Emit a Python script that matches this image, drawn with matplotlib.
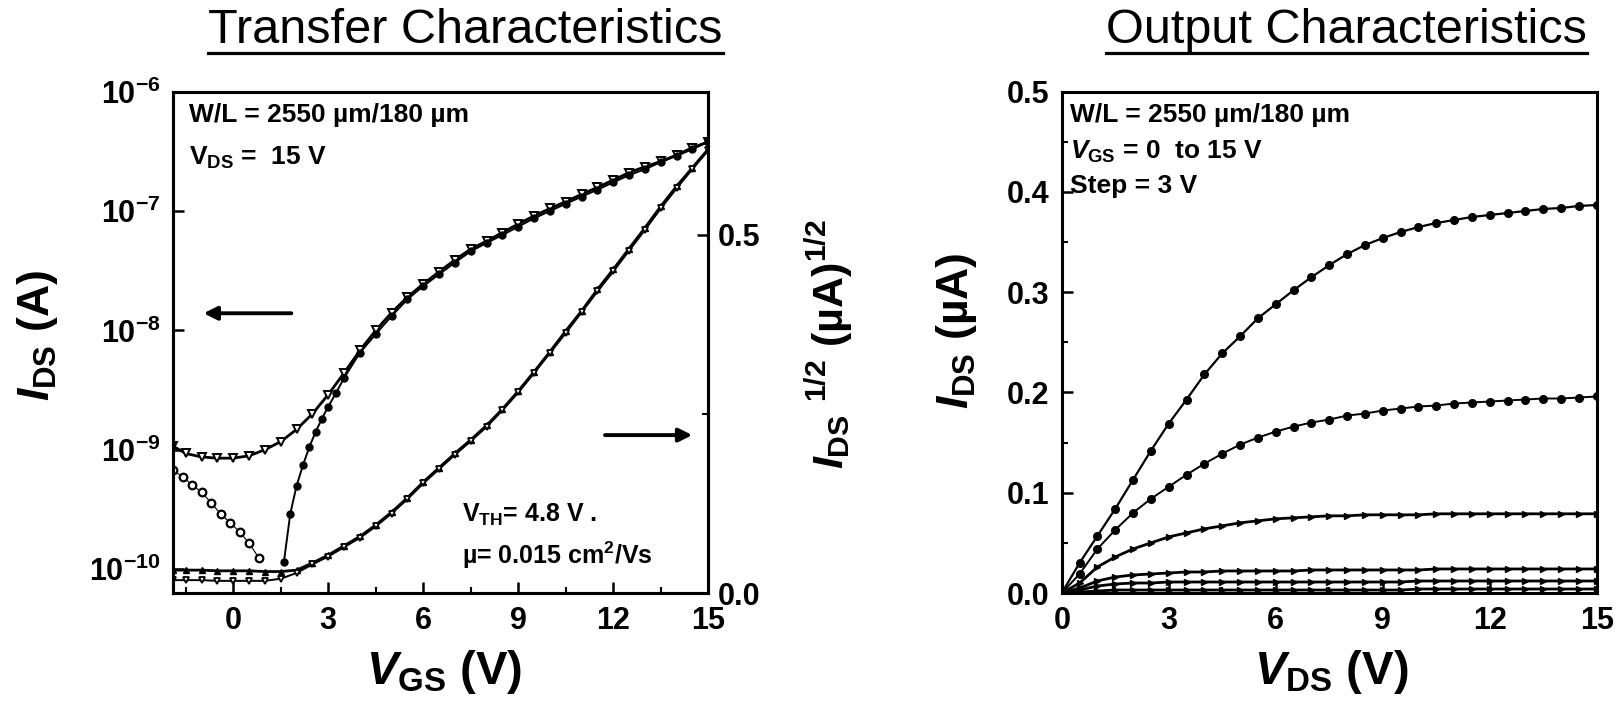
import numpy as np
import matplotlib
matplotlib.use('Agg')
import matplotlib.pyplot as plt
from matplotlib.ticker import FixedLocator, MultipleLocator, FuncFormatter, NullLocator, FormatStrFormatter
from matplotlib.lines import Line2D

# ---------------- data ----------------
# Transfer characteristics, V_DS = 15 V  (left axis, log I_DS in A)
vgs_fwd = [-1.9, -1.5, -1.0, -0.5, 0.0, 0.5, 1.0, 1.5, 2.0, 2.5, 3.0, 3.5, 4.0, 4.5, 5.0,
           5.5, 6.0, 6.5, 7.0, 7.5, 8.0, 8.5, 9.0, 9.5, 10.0, 10.5, 11.0, 11.5, 12.0,
           12.5, 13.0, 13.5, 14.0, 14.5, 15.0]
ids_fwd = [1.07e-9, 9.3e-10, 8.7e-10, 8.5e-10, 8.5e-10, 8.9e-10, 1.0e-9, 1.17e-9, 1.48e-9,
           2.0e-9, 2.9e-9, 4.4e-9, 6.8e-9, 1.0e-8, 1.41e-8, 1.9e-8, 2.45e-8, 3.1e-8, 3.9e-8,
           4.8e-8, 5.6e-8, 6.6e-8, 7.8e-8, 9.1e-8, 1.05e-7, 1.2e-7, 1.38e-7, 1.58e-7, 1.82e-7,
           2.1e-7, 2.35e-7, 2.6e-7, 2.95e-7, 3.4e-7, 3.8e-7]

vgs_rev_low = [-1.9, -1.6, -1.3, -1.0, -0.7, -0.4, -0.1, 0.2, 0.5, 0.8]
ids_rev_low = [6.8e-10, 5.9e-10, 5.1e-10, 4.4e-10, 3.6e-10, 2.9e-10, 2.45e-10, 2.05e-10,
               1.65e-10, 1.25e-10]

vgs_rev_on = [1.6, 1.8, 2.0, 2.2, 2.4, 2.6, 2.8, 3.0, 3.25, 3.5, 4.0, 4.5, 5.0, 5.5, 6.0,
              6.5, 7.0, 7.5, 8.0, 8.5, 9.0, 9.5, 10.0, 10.5, 11.0, 11.5, 12.0, 12.5, 13.0,
              13.5, 14.0, 14.5, 15.0]
ids_rev_on = [1.15e-10, 2.9e-10, 5.0e-10, 7.4e-10, 1.05e-9, 1.41e-9, 1.82e-9, 2.3e-9, 3.0e-9,
              4.0e-9, 6.5e-9, 9.3e-9, 1.32e-8, 1.82e-8, 2.35e-8, 2.95e-8, 3.7e-8, 4.6e-8,
              5.4e-8, 6.3e-8, 7.4e-8, 8.7e-8, 1.0e-7, 1.15e-7, 1.32e-7, 1.51e-7, 1.74e-7,
              2.0e-7, 2.24e-7, 2.57e-7, 2.9e-7, 3.3e-7, 3.8e-7]

# right axis: I_DS^(1/2) in (uA)^(1/2)
vgs_sq = [-1.9, -1.5, -1.0, -0.5, 0.0, 0.5, 1.0, 1.5, 2.0, 2.5, 3.0, 3.5, 4.0, 4.5, 5.0,
          5.5, 6.0, 6.5, 7.0, 7.5, 8.0, 8.5, 9.0, 9.5, 10.0, 10.5, 11.0, 11.5, 12.0,
          12.5, 13.0, 13.5, 14.0, 14.5, 15.0]
sqrt_fwd = [0.032, 0.032, 0.032, 0.031, 0.031, 0.031, 0.030, 0.030, 0.032, 0.042, 0.053,
            0.066, 0.079, 0.095, 0.113, 0.133, 0.155, 0.175, 0.195, 0.214, 0.234, 0.257,
            0.282, 0.309, 0.337, 0.366, 0.394, 0.424, 0.452, 0.481, 0.510, 0.540, 0.568,
            0.594, 0.620]
sqrt_rev = [0.018, 0.018, 0.018, 0.017, 0.017, 0.017, 0.017, 0.020, 0.028, 0.040, 0.051,
            0.064, 0.077, 0.093, 0.111, 0.131, 0.153, 0.173, 0.193, 0.212, 0.232, 0.255,
            0.280, 0.307, 0.335, 0.363, 0.392, 0.421, 0.449, 0.478, 0.507, 0.537, 0.565,
            0.592, 0.618]

# Output characteristics (I_DS in uA), V_GS = 0 to 15 V, step 3 V
vds = [0.0, 0.5, 1.0, 1.5, 2.0, 2.5, 3.0, 3.5, 4.0, 4.5, 5.0, 5.5, 6.0, 6.5, 7.0, 7.5, 8.0,
       8.5, 9.0, 9.5, 10.0, 10.5, 11.0, 11.5, 12.0, 12.5, 13.0, 13.5, 14.0, 14.5, 15.0]
ids_vgs15 = [0.0, 0.030, 0.057, 0.084, 0.113, 0.142, 0.169, 0.193, 0.218, 0.239, 0.256,
             0.274, 0.288, 0.302, 0.315, 0.327, 0.338, 0.347, 0.354, 0.360, 0.365, 0.369,
             0.372, 0.375, 0.377, 0.379, 0.381, 0.383, 0.384, 0.386, 0.387]
ids_vgs12 = [0.0, 0.019, 0.044, 0.063, 0.080, 0.094, 0.106, 0.118, 0.129, 0.139, 0.148,
             0.155, 0.161, 0.166, 0.170, 0.173, 0.177, 0.179, 0.182, 0.184, 0.186, 0.187,
             0.189, 0.190, 0.191, 0.192, 0.193, 0.194, 0.194, 0.195, 0.196]
ids_vgs9 = [0.0, 0.010, 0.026, 0.036, 0.044, 0.050, 0.056, 0.060, 0.064, 0.067, 0.070,
            0.072, 0.074, 0.075, 0.076, 0.077, 0.077, 0.078, 0.078, 0.078, 0.078, 0.079,
            0.079, 0.079, 0.079, 0.079, 0.079, 0.079, 0.079, 0.079, 0.079]
ids_vgs6 = [0.0, 0.005, 0.012, 0.016, 0.018, 0.019, 0.020, 0.021, 0.021, 0.022, 0.022,
            0.022, 0.022, 0.022, 0.023, 0.023, 0.023, 0.023, 0.023, 0.023, 0.023, 0.024,
            0.024, 0.024, 0.024, 0.024, 0.024, 0.024, 0.024, 0.024, 0.024]
ids_vgs3 = [0.0, 0.003, 0.007, 0.009, 0.010, 0.010, 0.011, 0.011, 0.011, 0.011, 0.011,
            0.011, 0.011, 0.011, 0.011, 0.011, 0.011, 0.011, 0.011, 0.011, 0.012, 0.012,
            0.012, 0.012, 0.012, 0.012, 0.012, 0.012, 0.012, 0.012, 0.012]
ids_vgs0 = [0.0, 0.001, 0.002, 0.003, 0.003, 0.003, 0.003, 0.003, 0.003, 0.003, 0.003,
            0.003, 0.003, 0.003, 0.003, 0.003, 0.003, 0.003, 0.003, 0.003, 0.004, 0.004,
            0.004, 0.004, 0.004, 0.004, 0.004, 0.004, 0.004, 0.004, 0.004]

log_ticks = [1e-10, 1e-9, 1e-8, 1e-7, 1e-6]
vgs_ticks = [0, 3, 6, 9, 12, 15]
sq_ticks = [0.0, 0.5]
out_xticks = [0, 3, 6, 9, 12, 15]
out_yticks = [0.0, 0.1, 0.2, 0.3, 0.4, 0.5]

# ---------------- style ----------------
FAM = 'Liberation Sans'
plt.rcParams.update({
    'font.family': [FAM, 'DejaVu Sans'],
    'font.weight': 'bold',
    'mathtext.fontset': 'custom',
    'mathtext.rm': FAM + ':bold',
    'mathtext.it': FAM + ':italic:bold',
    'mathtext.bf': FAM + ':bold',
    'axes.linewidth': 2.2,
})

TICK_FS = 22
LAB_FS = 32
ANN_FS = 19

fig = plt.figure(figsize=(16.22, 7.19), dpi=100)

axL = fig.add_axes([0.1067, 0.1752, 0.3300, 0.6973])
axS = axL.twinx()
axR = fig.add_axes([0.6546, 0.1752, 0.3298, 0.6973])

# ---- transfer, log axis ----
axL.set_yscale('log')
axL.plot(vgs_fwd, ids_fwd, color='k', lw=2.0, marker='v', ms=5.5, mfc='white', mec='k', mew=1.4)
axL.plot(vgs_rev_low, ids_rev_low, color='k', lw=0.8, marker='o', ms=5.5, mfc='white', mec='k', mew=1.6)
axL.plot(vgs_rev_on, ids_rev_on, color='k', lw=1.4, marker='o', ms=5, mfc='k', mec='k')
axL.set_xlim(-1.9, 15)
axL.set_ylim(6.3e-11, 1e-6)

# ---- transfer, sqrt axis ----
axS.plot(vgs_sq, sqrt_fwd, color='k', lw=2.0, marker='^', ms=5, mfc='k', mec='k')
axS.plot(vgs_sq, sqrt_rev, color='k', lw=1.4, marker='v', ms=5, mfc='white', mec='k', mew=1.3)
axS.set_ylim(0, 0.70)

# ticks
axL.xaxis.set_major_locator(FixedLocator(vgs_ticks))
axL.xaxis.set_minor_locator(MultipleLocator(1.5))
axL.xaxis.set_major_formatter(FormatStrFormatter('%d'))
axL.yaxis.set_major_locator(FixedLocator(log_ticks))
axL.yaxis.set_minor_locator(NullLocator())
axL.yaxis.set_major_formatter(FuncFormatter(lambda v, p: r'$\mathbf{10^{%d}}$' % int(round(np.log10(v)))))
axL.tick_params(axis='x', which='both', direction='in', top=False, bottom=True, labelsize=TICK_FS, pad=9)
axL.tick_params(axis='y', which='both', direction='in', left=True, right=False, labelsize=TICK_FS, pad=9)
axL.tick_params(which='major', length=8, width=1.8)
axL.tick_params(which='minor', length=4.5, width=1.5)

axS.yaxis.set_major_locator(FixedLocator(sq_ticks))
axS.yaxis.set_minor_locator(FixedLocator([0.25]))
axS.yaxis.set_major_formatter(FormatStrFormatter('%.1f'))
axS.tick_params(axis='y', which='both', direction='in', right=True, left=False, labelsize=TICK_FS, pad=7)
axS.tick_params(which='major', length=8, width=1.8)
axS.tick_params(which='minor', length=4.5, width=1.5)

for lab in axL.get_xticklabels() + axL.get_yticklabels() + axS.get_yticklabels():
    lab.set_fontweight('bold')

# annotations
axL.text(0.03, 0.940, 'W/L = 2550 µm/180 µm', transform=axL.transAxes, fontsize=ANN_FS,
         fontweight='bold', va='baseline', ha='left')
axL.text(0.03, 0.854, r'$\mathrm{V}_{\mathrm{DS}}$ =  15 V', transform=axL.transAxes,
         fontsize=ANN_FS, fontweight='bold', va='baseline', ha='left')
axL.text(0.54, 0.156, r'$\mathrm{V}_{\mathrm{TH}}$= 4.8 V .', transform=axL.transAxes,
         fontsize=18, fontweight='bold', va='center', ha='left')
axL.text(0.54, 0.076, r'µ= 0.015 cm$^{\mathrm{2}}$/Vs', transform=axL.transAxes,
         fontsize=18, fontweight='bold', va='center', ha='left')
arrow_kw = dict(arrowstyle='-|>', color='k', lw=2.8, mutation_scale=20, shrinkA=0, shrinkB=0)
axL.annotate('', xy=(0.057, 0.558), xytext=(0.221, 0.558), xycoords='axes fraction',
             textcoords='axes fraction', arrowprops=arrow_kw)
axL.annotate('', xy=(0.97, 0.315), xytext=(0.807, 0.315), xycoords='axes fraction',
             textcoords='axes fraction', arrowprops=arrow_kw)

# ---- output characteristics ----
axR.plot(vds, ids_vgs15, color='k', lw=1.6, marker='o', ms=5.5, mfc='k', mec='k')
axR.plot(vds, ids_vgs12, color='k', lw=1.4, marker='o', ms=5.5, mfc='k', mec='k')
for series in (ids_vgs9, ids_vgs6, ids_vgs3, ids_vgs0):
    axR.plot(vds, series, color='k', lw=2.0, marker='>', ms=5, mfc='k', mec='k')
axR.set_xlim(0, 15)
axR.set_ylim(0, 0.5)
axR.xaxis.set_major_locator(FixedLocator(out_xticks))
axR.xaxis.set_minor_locator(MultipleLocator(1.5))
axR.xaxis.set_major_formatter(FormatStrFormatter('%d'))
axR.yaxis.set_major_locator(FixedLocator(out_yticks))
axR.yaxis.set_minor_locator(MultipleLocator(0.05))
axR.yaxis.set_major_formatter(FormatStrFormatter('%.1f'))
axR.tick_params(axis='both', which='both', direction='in', top=False, right=False,
                labelsize=TICK_FS, pad=9)
axR.tick_params(which='major', length=8, width=1.8)
axR.tick_params(which='minor', length=4.5, width=1.5)
for lab in axR.get_xticklabels() + axR.get_yticklabels():
    lab.set_fontweight('bold')

axR.text(0.0155, 0.940, 'W/L = 2550 µm/180 µm', transform=axR.transAxes, fontsize=ANN_FS,
         fontweight='bold', va='baseline', ha='left')
axR.text(0.0155, 0.867, r'$V_{\mathrm{GS}}$ = 0  to 15 V', transform=axR.transAxes,
         fontsize=ANN_FS, fontweight='bold', va='baseline', ha='left')
axR.text(0.0155, 0.797, 'Step = 3 V', transform=axR.transAxes, fontsize=ANN_FS,
         fontweight='bold', va='baseline', ha='left')

# ---- axis labels ----
fig.text(0.0234, 0.533, r'$I_{\mathrm{DS}}$ (A)', rotation=90, ha='center', va='center',
         fontsize=LAB_FS, fontweight='bold')
fig.text(0.511, 0.522, r'$I_{\mathrm{DS}}$ $^{\mathrm{1/2}}$ (µA)$^{\mathrm{1/2}}$', rotation=90,
         ha='center', va='center', fontsize=31, fontweight='bold')
fig.text(0.590, 0.540, r'$I_{\mathrm{DS}}$ (µA)', rotation=90, ha='center', va='center',
         fontsize=LAB_FS, fontweight='bold')
fig.text(0.274, 0.049, r'$V_{\mathrm{GS}}$ (V)', ha='center', va='baseline',
         fontsize=LAB_FS + 2, fontweight='bold')
fig.text(0.821, 0.049, r'$V_{\mathrm{DS}}$ (V)', ha='center', va='baseline',
         fontsize=LAB_FS + 2, fontweight='bold')

# ---- underlined titles ----
t1 = fig.text(0.287, 0.958, 'Transfer Characteristics', ha='center', va='center',
              fontsize=35, fontweight='normal', family=[FAM, 'DejaVu Sans'])
t2 = fig.text(0.830, 0.958, 'Output Characteristics', ha='center', va='center',
              fontsize=35, fontweight='normal', family=[FAM, 'DejaVu Sans'])
fig.canvas.draw()
rend = fig.canvas.get_renderer()
for t in (t1, t2):
    bb = t.get_window_extent(renderer=rend)
    x0 = bb.x0 / fig.bbox.width
    x1 = bb.x1 / fig.bbox.width
    fig.add_artist(Line2D([x0, x1], [0.9267, 0.9267], transform=fig.transFigure,
                          color='k', lw=2.3))

fig.savefig('out.png', dpi=100)
